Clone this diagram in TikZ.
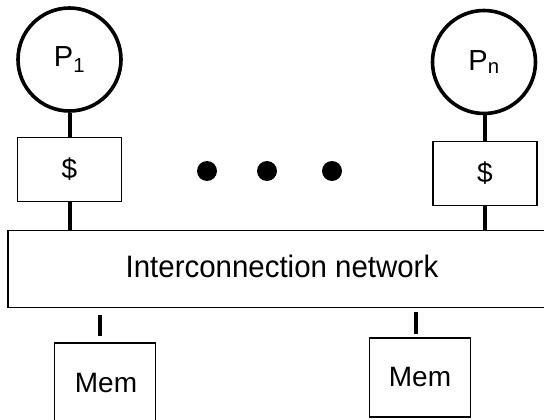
\documentclass[tikz,border=0pt]{standalone}
\usepackage{fontspec}
\setmainfont{Liberation Sans}
\begin{document}
\begin{tikzpicture}[x=1pt,y=-1pt,
  proc/.style={circle,draw,line width=3.6pt,minimum size=103pt,inner sep=0pt,font=\fontsize{29}{32}\selectfont},
  cache/.style={draw,line width=1.2pt,minimum width=104pt,minimum height=64pt,inner sep=0pt,font=\fontsize{28}{32}\selectfont},
  mem/.style={draw,line width=1.2pt,minimum width=101pt,inner sep=0pt,font=\fontsize{28}{32}\selectfont},
  lbl/.style={inner sep=0pt,font=\fontsize{28}{32}\selectfont},
  netbox/.style={draw,line width=1.4pt,minimum width=548pt,minimum height=77pt,inner sep=0pt},
  link/.style={line width=4pt},
  bigdot/.style={circle,fill=black,minimum size=20pt,inner sep=0pt}]
\clip (0,0) rectangle (544,420);
\node[proc] (p1) at (69.5,59.5) {P\textsubscript{1}};
\node[proc] (pn) at (484,62) {P\textsubscript{n}};
\node[cache] (c1) at (69.5,169.5) {\$};
\node[cache] (cn) at (485,173.5) {\$};
\node[netbox] (net) at (282,269) {};
\node[font=\fontsize{31}{34}\selectfont] (nettext) at (282,266) {\scalebox{0.95}[1]{Interconnection network}};
\node[mem,minimum height=90pt] (m1) at (105,388) {};
\node[lbl] (m1text) at (106,383) {Mem};
\node[mem,minimum height=79pt] (m2) at (420,377.5) {Mem};
\node[bigdot] (d1) at (207,171) {};
\node[bigdot] (d2) at (267,171) {};
\node[bigdot] (d3) at (332,171) {};
\coordinate (a1) at (100,0);
\coordinate (a2) at (416,0);
\draw[link] (p1.south) -- (c1.north);
\draw[link] (c1.south) -- (c1.south |- net.north);
\draw[link] (pn.south -| cn.north) -- (cn.north);
\draw[link] (cn.south) -- (cn.south |- net.north);
\draw[link,shorten <=7pt,shorten >=6pt] (net.south -| a1) -- (m1.north -| a1);
\draw[link,shorten <=4pt,shorten >=3pt] (net.south -| a2) -- (m2.north -| a2);
\end{tikzpicture}
\end{document}
